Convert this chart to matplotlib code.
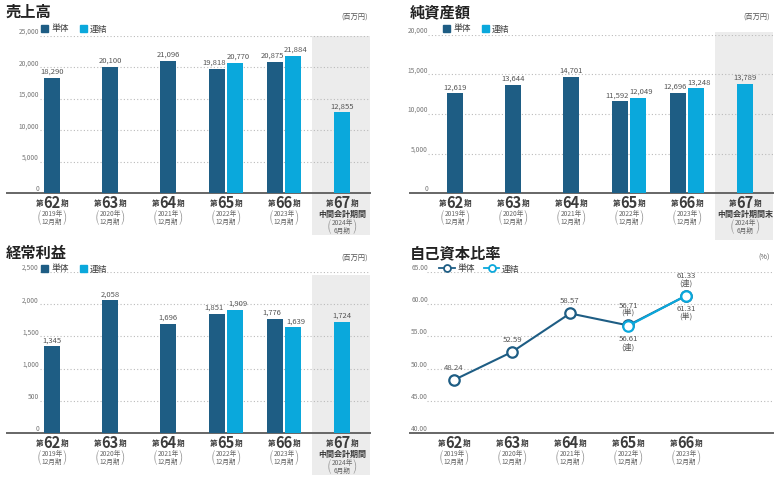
import matplotlib
matplotlib.use('Agg')
import matplotlib.pyplot as plt
import matplotlib.transforms as mtransforms
from matplotlib.patches import Patch
from matplotlib.lines import Line2D

plt.rcParams['font.family'] = ['Noto Sans CJK JP', 'DejaVu Sans']

# data
periods = ['62', '63', '64', '65', '66', '67']
years = ['2019年', '2020年', '2021年', '2022年', '2023年', '2024年']
months = ['12月期', '12月期', '12月期', '12月期', '12月期', '6月期']

sales_single = [18290, 20100, 21096, 19818, 20875, None]
sales_consol = [None, None, None, 20770, 21884, 12855]
net_single = [12619, 13644, 14701, 11592, 12696, None]
net_consol = [None, None, None, 12049, 13248, 13789]
ord_single = [1345, 2058, 1696, 1851, 1776, None]
ord_consol = [None, None, None, 1909, 1639, 1724]
ratio_single = [48.24, 52.59, 58.57, 56.71, 61.31]
ratio_consol = [None, None, None, 56.61, 61.33]

DARK = '#1e5d84'
LIGHT = '#0aa8dc'
SHADE = '#ececec'
TXT = '#3c3c3c'
GRAY = '#666666'

W, H = 777, 482
fig = plt.figure(figsize=(W / 100, H / 100), dpi=100)


def px_axes(l, t, r, b):
    return fig.add_axes([l / W, 1 - b / H, (r - l) / W, (b - t) / H])


def off(ax, dy_px, dx_px=0):
    tr = mtransforms.blended_transform_factory(ax.transData, ax.transAxes)
    return mtransforms.offset_copy(tr, fig=fig, x=dx_px * 0.72, y=dy_px * 0.72, units='points')


def period_labels(ax, n, last_text=None):
    for i in range(n):
        t = ax.text(i, 0, periods[i], transform=off(ax, -10), ha='center', va='center',
                    fontsize=10.5, fontweight='bold', color=TXT)
        ax.annotate('第', xy=(0, 0.18), xycoords=t, ha='right', va='bottom',
                    fontsize=5.5, fontweight='bold', color=TXT)
        ax.annotate('期', xy=(1, 0.18), xycoords=t, ha='left', va='bottom',
                    fontsize=5.5, fontweight='bold', color=TXT)
        dy = -25
        if i == 5 and last_text:
            ax.text(i, 0, last_text, transform=off(ax, -21), ha='center', va='center',
                    fontsize=5.8, fontweight='bold', color=TXT)
            dy = -34
        yt = ax.text(i, 0, years[i] + '\n' + months[i], transform=off(ax, dy), ha='center',
                     va='center', fontsize=4.8, color=GRAY, linespacing=1.05)
        ax.annotate('(', xy=(0, 0.5), xycoords=yt, ha='right', va='center',
                    fontsize=10, color='#999999', fontweight='light')
        ax.annotate(')', xy=(1, 0.5), xycoords=yt, ha='left', va='center',
                    fontsize=10, color='#999999', fontweight='light')


def setup(ax, lo, ymax, step, fmt, grid_x0, tick_pad, xl):
    ax.set_xlim(xl)
    ax.set_ylim(lo, ymax)
    for s in ['top', 'right', 'left']:
        ax.spines[s].set_visible(False)
    ax.spines['bottom'].set_color('#666666')
    ax.spines['bottom'].set_linewidth(1.4)
    ax.set_xticks([])
    n = int(round((ymax - lo) / step))
    ticks = [lo + step * k for k in range(n + 1)]
    ax.set_yticks(ticks, [fmt.format(v) for v in ticks], va='bottom')
    ax.tick_params(axis='y', length=0, pad=-tick_pad, labelsize=4.8, labelcolor='#777777')
    ax.hlines(ticks[1:], grid_x0, xl[1], colors='#bbbbbb', linestyles=(0, (1, 2)),
              linewidth=0.8, zorder=1)
    ax.patch.set_alpha(0)


def bar_panel(ax, single, consol, ymax, step, shade_top, shade_bot, grid_x0, tick_pad, last_text):
    xl = (-0.776, 5.483)
    setup(ax, 0, ymax, step, '{:,.0f}', grid_x0, tick_pad, xl)
    ax.axvspan(4.48, xl[1], ymin=-shade_bot, ymax=shade_top, color=SHADE, zorder=0,
               clip_on=False, lw=0)
    w = 0.265
    for i in range(6):
        both = single[i] is not None and consol[i] is not None
        for val, col, dx, tdx in [(single[i], DARK, -0.155, -2.2), (consol[i], LIGHT, 0.155, 2.2)]:
            if val is None:
                continue
            x = i + (dx if both else 0)
            ax.bar(x, val, width=w, color=col, zorder=3)
            ax.annotate(f'{val:,}', xy=(x, val), xytext=(tdx if both else 0, 1.5),
                        textcoords='offset points', ha='center', va='bottom',
                        fontsize=5.5, color='#555555')
    period_labels(ax, 6, last_text)


def legend_bar(ax, x, y):
    h = [Patch(color=DARK, label='単体'), Patch(color=LIGHT, label='連結')]
    ax.legend(handles=h, loc='center left', bbox_to_anchor=(x / W, 1 - y / H),
              bbox_transform=fig.transFigure, ncol=2, frameon=False, fontsize=6.3,
              handlelength=0.75, handleheight=0.75, handletextpad=0.4, columnspacing=1.3,
              labelcolor=TXT, borderpad=0, borderaxespad=0)


def titles(title, x, y, unit, ux):
    fig.text(x / W, 1 - y / H, title, fontsize=11, fontweight='bold', color='#222222',
             ha='left', va='center')
    fig.text(ux / W, 1 - (y + 5) / H, unit, fontsize=5.2, color='#555555', ha='right',
             va='center')


# 売上高
ax1 = px_axes(7, 36, 370, 193)
bar_panel(ax1, sales_single, sales_consol, 25000, 5000, 1.0, 42 / 157, -0.2, 23, '中間会計期間')
legend_bar(ax1, 41, 29)
titles('売上高', 6, 12, '(百万円)', 368)

# 純資産額
ax2 = px_axes(410, 35, 773, 193)
bar_panel(ax2, net_single, net_consol, 20000, 5000, 1.02, 47 / 158, -0.47, 13, '中間会計期間末')
legend_bar(ax2, 443, 29)
titles('純資産額', 410, 12, '(百万円)', 770)

# 経常利益
ax3 = px_axes(7, 272, 370, 433)
bar_panel(ax3, ord_single, ord_consol, 2500, 500, 0.98, 42 / 161, -0.2, 23, '中間会計期間')
legend_bar(ax3, 41, 269)
titles('経常利益', 6, 253, '(百万円)', 368)

# 自己資本比率
ax4 = px_axes(410, 272, 773, 433)
xl = (-0.76, 5.5)
setup(ax4, 40, 65, 5, '{:.2f}', -0.47, 13, xl)
xs = list(range(5))
ax4.plot(xs, ratio_single, color=DARK, lw=1.5, marker='o', ms=7.5, mfc='white',
         mec=DARK, mew=1.6, zorder=4)
cx = [i for i in xs if ratio_consol[i] is not None]
cy = [ratio_consol[i] for i in cx]
ax4.plot(cx, cy, color=LIGHT, lw=1.5, marker='o', ms=7.5, mfc='white', mec=LIGHT,
         mew=1.6, zorder=5)
ratio_labels = [('48.24', 0, ratio_single[0], 6), ('52.59', 1, ratio_single[1], 6),
                ('58.57', 2, ratio_single[2], 6), ('56.71\n(単)', 3, ratio_single[3], 5.5),
                ('56.61\n(連)', 3, ratio_consol[3], -6.5), ('61.33\n(連)', 4, ratio_consol[4], 5.5),
                ('61.31\n(単)', 4, ratio_single[4], -7)]
for txt, x, y, dy in ratio_labels:
    ax4.annotate(txt, xy=(x, y), xytext=(0, dy), textcoords='offset points', ha='center',
                 va='bottom' if dy > 0 else 'top', fontsize=5.6, color='#555555',
                 linespacing=0.95)
period_labels(ax4, 5)
lh = [Line2D([], [], color=DARK, marker='o', mfc='white', mec=DARK, ms=5, mew=1.3, lw=1.3, label='単体'),
      Line2D([], [], color=LIGHT, marker='o', mfc='white', mec=LIGHT, ms=5, mew=1.3, lw=1.3, label='連結')]
ax4.legend(handles=lh, loc='center left', bbox_to_anchor=(439 / W, 1 - 269 / H),
           bbox_transform=fig.transFigure, ncol=2, frameon=False, fontsize=6.3,
           handlelength=1.8, handletextpad=0.3, columnspacing=1.0, labelcolor=TXT,
           borderpad=0, borderaxespad=0)
titles('自己資本比率', 410, 253, '(%)', 770)

fig.savefig('out.png', dpi=100)
